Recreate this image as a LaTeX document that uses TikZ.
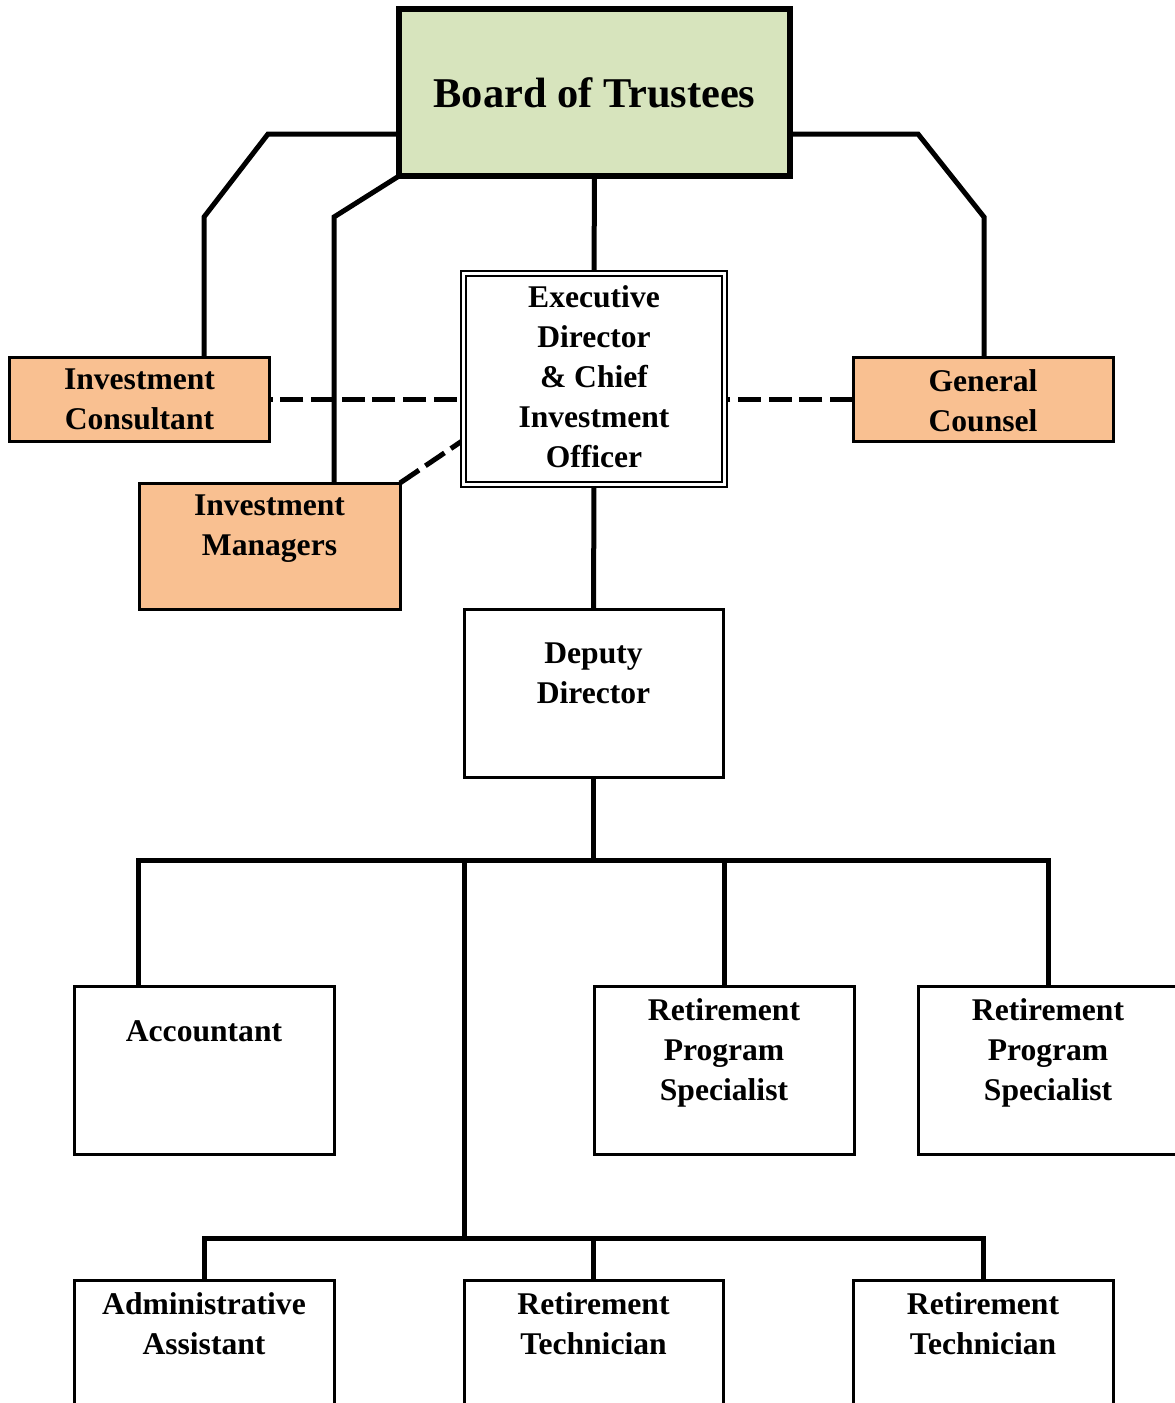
\documentclass[tikz,border=0pt]{standalone}
\usepackage{fontspec}
\setmainfont{Liberation Serif}
\usepackage{tikz}
\usetikzlibrary{backgrounds}
\usepackage{xcolor}
\definecolor{boardgreen}{HTML}{D7E4BD}
\definecolor{advisorbg}{HTML}{F9C091}
\newcommand{\orgfont}{\fontsize{31.6}{40}\selectfont\bfseries}
\newcommand{\titlefont}{\fontsize{42.4}{50}\selectfont\bfseries}

\begin{document}
\begin{tikzpicture}[
  x=1pt, y=-1pt,
  conn/.style={line width=5pt},
  liaison/.style={line width=5pt, dash pattern=on 23pt off 7.7pt},
  orgbox/.style={
    draw,
    line width=3pt,
    fill=white,
    minimum width=260pt,
    minimum height=168pt,
    inner sep=0pt,
    outer sep=0pt
  },
  advisorbox/.style={orgbox, fill=advisorbg, minimum height=84pt},
  boxtext/.style={
    font=\orgfont,
    align=center,
    anchor=north,
    inner sep=0pt,
    yshift=-#1
  },
  boxtext/.default=12pt
]
  \useasboundingbox (0,0) rectangle (1175,1403);
  \clip (0,0) rectangle (1175,1403);

  % --- Board and Executive Director ---
  \node[draw, line width=6pt, fill=boardgreen, minimum width=391pt, minimum height=167pt,
        inner sep=0pt, outer sep=0pt, font=\titlefont] (board) at (594.5,92.5) {Board of Trustees};

  \node[orgbox, line width=2pt, double, double distance=3pt, minimum width=261pt, minimum height=211pt,
        label={[boxtext]north:Executive\\Director\\\& Chief\\Investment\\Officer}] (exec) at (594,379) {};

  % --- Advisors ---
  \node[advisorbox, label={[boxtext]north:Investment\\Consultant}] (consultant) at (139.5,399) {};
  \node[advisorbox, label={[boxtext]north:General\\Counsel}] (counsel) at (983,399) {};
  \node[advisorbox, minimum width=261pt, minimum height=126pt,
        label={[boxtext]north:Investment\\Managers}] (managers) at (269.5,546) {};

  % --- Staff ---
  \node[orgbox, minimum width=259pt, label={[boxtext=34pt]north:Deputy\\Director}] (deputy) at (593.5,693) {};

  \node[orgbox, label={[boxtext=34pt]north:Accountant}] (accountant) at (204,1070) {};
  \node[orgbox, label={[boxtext]north:Retirement\\Program\\Specialist}] (rpsA) at (724,1070) {};
  \node[orgbox, label={[boxtext]north:Retirement\\Program\\Specialist}] (rpsB) at (1048,1070) {};

  \node[orgbox, label={[boxtext]north:Administrative\\Assistant}] (admin) at (204,1364) {};
  \node[orgbox, minimum width=259pt, label={[boxtext]north:Retirement\\Technician}] (techA) at (593.5,1364) {};
  \node[orgbox, label={[boxtext]north:Retirement\\Technician}] (techB) at (983,1364) {};

  % bend points
  \coordinate (elbowL) at (268,134);
  \coordinate (kneeL) at (204,217);
  \coordinate (kneeM) at (334,217);
  \coordinate (elbowR) at (918,134);
  \coordinate (kneeR) at (984,217);
  \coordinate (busAL) at (138,860);
  \coordinate (busAR) at (1048,860);
  \coordinate (trunk) at (464,860);
  \coordinate (busB) at (594,1238);

  \begin{scope}[on background layer]
    % Board lines
    \draw[conn] (board.west |- elbowL) -- (elbowL) -- (kneeL) -- (kneeL |- consultant.north);
    \draw[conn] (board.south west) -- (kneeM) -- (kneeM |- managers.north);
    \draw[conn] (board.east |- elbowR) -- (elbowR) -- (kneeR) -- (kneeR |- counsel.north);
    \draw[conn] (board.south) -- (exec.north);

    % Advisory (dashed) lines
    \draw[liaison, dash phase=24pt] (consultant.east -| exec.west) -- (consultant.east);
    \draw[liaison] (counsel.west) -- (counsel.west -| exec.east);
    \draw[liaison] (managers.north east) -- ([yshift=-61pt]exec.west);

    % Staff lines
    \draw[conn] (exec.south) -- (deputy.north);
    \draw[conn] (deputy.south) -- (deputy.south |- busAL);
    \draw[conn] (accountant.north -| busAL) -- (busAL) -- (busAR) -- (rpsB.north);
    \draw[conn] (rpsA.north) -- (rpsA.north |- busAL);
    \draw[conn] (trunk) -- (trunk |- busB);
    \draw[conn] (admin.north) -- (admin.north |- busB) -- (techB.north |- busB) -- (techB.north);
    \draw[conn] (techA.north) -- (techA.north |- busB);
  \end{scope}

\end{tikzpicture}
\end{document}
